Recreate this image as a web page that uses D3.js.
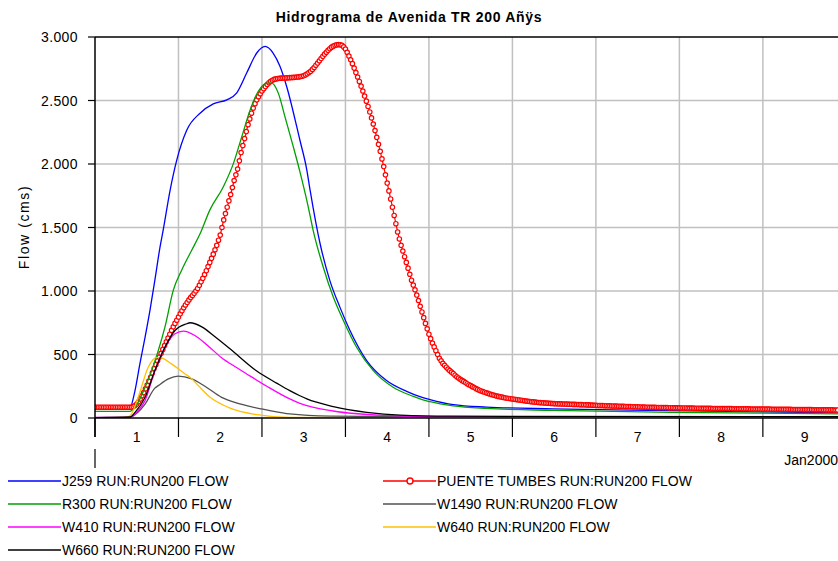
<!DOCTYPE html>
<html><head><meta charset="utf-8">
<script src="https://cdn.jsdelivr.net/npm/d3@7"></script>
<style>body{margin:0;background:#fff} text{font-family:Arial,"Liberation Sans",sans-serif;fill:#000}</style>
</head><body><svg id="c" width="838" height="561"></svg>
<script>
// ---------- DATA ----------
const title = "Hidrograma de Avenida TR 200 Añÿs";
const yLabel = "Flow (cms)";
const dayLabels = ["1","2","3","4","5","6","7","8","9"];
const dayTickHours = [0,24,48,72,96,120,144,168,192];
const yTicks = [0,500,1000,1500,2000,2500,3000];
const periodLabel = "Jan2000";

// PUENTE TUMBES, one value every half hour from hour 0
const puenteStepHours = 0.5;
const puenteFlow = [
 85,85, 85,85, 85,85, 85,85, 85,85, 85,85, 85,85, 85,85, 85,85, 85,85,
 85,86, 90,98, 110,128, 150,175, 200,230, 260,290, 320,355, 390,420, 450,480, 510,540,
 570,600, 630,660, 690,718, 745,770, 795,820, 845,868, 890,910, 930,948, 965,982, 1000,1020,
 1045,1072, 1100,1130, 1160,1192, 1225,1257, 1290,1325, 1360,1400, 1440,1500, 1560,1610, 1660,1710, 1760,1815,
 1870,1915, 1960,2025, 2090,2145, 2200,2255, 2310,2355, 2400,2440, 2475,2505, 2530,2553, 2575,2593, 2610,2626,
 2640,2651, 2660,2666, 2670,2673, 2675,2676, 2677,2677, 2678,2679, 2680,2681, 2682,2683, 2685,2686, 2688,2691,
 2695,2702, 2710,2720, 2730,2745, 2760,2778, 2795,2813, 2830,2848, 2865,2880, 2895,2908, 2920,2928, 2935,2938,
 2940,2939, 2935,2922, 2905,2880, 2850,2820, 2790,2755, 2720,2685, 2650,2613, 2575,2535, 2495,2453, 2410,2363,
 2315,2263, 2210,2155, 2100,2040, 1980,1915, 1850,1788, 1725,1660, 1595,1530, 1465,1410, 1360,1315, 1270,1225,
 1180,1132, 1085,1047, 1010,968, 925,880, 835,790, 745,702, 660,625, 590,560, 530,500, 470,450,
 430,415, 400,386, 373,361, 350,337, 325,315, 305,296, 288,279, 270,262, 255,247, 240,232,
 225,219, 213,208, 203,198, 194,189, 185,181, 177,173, 170,167, 164,161, 158,156, 154,152,
 150,148, 146,144, 142,140, 138,136, 134,132, 130,128, 127,125, 124,122, 121,120, 119,118,
 117,116, 115,114, 113,112, 112,111, 111,110, 110,109, 109,108, 108,107, 107,106, 106,105,
 105,104, 104,103, 103,102, 101,100, 100,99, 99,98, 98,97, 97,96, 96,95, 95,94,
 94,93, 93,92, 92,91, 91,90, 90,89, 89,88, 88,87, 87,86, 86,85, 85,84,
 84,84, 84,83, 83,83, 83,82, 82,82, 81,81, 81,80, 80,80, 80,79, 79,79,
 79,78, 78,78, 78,77, 77,77, 77,76, 76,76, 76,76, 76,75, 75,75, 75,75,
 75,74, 74,74, 74,74, 74,73, 73,73, 73,73, 73,72, 72,72, 72,71, 71,71,
 71,71, 71,70, 70,70, 70,70, 70,69, 69,69, 69,69, 69,68, 68,68, 68,68,
 68,67, 67,67, 67,67, 67,66, 66,66, 66,66, 66,65, 65,65, 65,65, 65,64,
 64,64, 64,64, 64,63, 63,63
];

const j259Hours = [0,10,11.5,12.9,14.4,15.8,17.2,18.7,19.6,21.6,23.5,26.4,30.2,34,37.9,40.7,43.6,46.5,48.9,51.2,53.2,55.1,58,58.9,60.9,61.8,64.7,67.5,70.4,73.3,78.1,83.8,89.6,93.4,96.3,103,112.6,131.7,165.3,213.6];
const j259Flow  = [75,78,216,426,636,847,1084,1347,1479,1795,2031,2268,2400,2473,2505,2558,2716,2874,2926,2874,2768,2610,2294,2189,1952,1800,1374,1084,873,689,452,295,210,168,145,105,86,72,58,40];

const r300Hours = [0,10,11.5,14.4,16.3,18.2,20.1,22.5,24.9,27.8,30.2,33,36.9,39.8,42.2,44.6,46.9,49.4,50.8,52.7,54.6,57,58.9,61.3,62.7,65.6,68.5,71.4,75.2,80,85.7,91.5,93.4,96.3,103,112.6,131.7,165.3,213.6];
const r300Flow  = [52,52,84,242,373,531,715,1005,1163,1321,1450,1637,1821,2005,2215,2426,2571,2637,2637,2558,2373,2137,1940,1663,1479,1189,952,768,557,373,242,170,150,128,95,75,60,45,32];

const w1490Hours = [0,10.1,12.1,14.4,17.2,18.2,21.1,23.9,27.8,31.6,36.4,40.2,43.6,47.9,50.3,56,67.5,100,213.6];
const w1490Flow  = [2,5,40,110,235,255,308,329,308,250,163,123,97,71,58,32,15,8,5];

const w410Hours = [0,9,10.1,12.1,14.4,17.2,20.1,23,25.4,28.7,32.6,36.4,40.2,43.6,49.4,56,58.9,68.5,82.9,102,213.6];
const w410Flow  = [5,5,8,50,137,373,557,663,684,650,565,475,405,347,250,150,115,55,20,8,3];

const w640Hours = [0,8.6,10.1,12.4,15.3,17.7,19.1,22,25.9,27.3,29.7,33,38.3,46.5,56,100,213.6];
const w640Flow  = [2,5,18,163,400,478,474,426,347,321,255,165,84,26,5,3,2];

const w660Hours = [0,10.1,11.5,14.4,17.2,20.1,23,26.4,27.3,30.7,34.5,38.8,46.5,52.2,56,58.9,60.9,68.5,78.1,87.7,102,213.6];
const w660Flow  = [3,8,44,163,373,557,689,742,750,718,640,545,370,275,215,175,150,90,45,22,14,10];

const seriesNames = ["J259 RUN:RUN200 FLOW","PUENTE TUMBES RUN:RUN200 FLOW","R300 RUN:RUN200 FLOW","W1490 RUN:RUN200 FLOW","W410 RUN:RUN200 FLOW","W640 RUN:RUN200 FLOW","W660 RUN:RUN200 FLOW"];
const seriesColors = ["#0000ff","#ff0000","#00a000","#505050","#ff00ff","#ffc000","#000000"];

// ---------- CHART ----------
const svg = d3.select("#c");
const L = 95, R = 838, T = 37, B = 418;
const x = d3.scaleLinear().domain([0, 213.6]).range([L, R]);
const y = d3.scaleLinear().domain([0, 3000]).range([B, T]);
const fmt = d3.formatLocale({decimal:",", thousands:".", grouping:[3], currency:["",""]}).format(",d");

svg.append("defs").append("clipPath").attr("id","clip")
  .append("rect").attr("x",L).attr("y",T-4).attr("width",R-L+4).attr("height",B-T+4);

// gridlines
const g = svg.append("g");
g.selectAll(".hg").data(yTicks.filter(v=>v>0 && v<3000)).enter().append("line")
  .attr("x1",L).attr("x2",R).attr("y1",d=>y(d)).attr("y2",d=>y(d))
  .attr("stroke","#c0c0c0").attr("stroke-width",1.5);
g.selectAll(".vg").data(dayTickHours.filter(h=>h>0)).enter().append("line")
  .attr("x1",d=>x(d)).attr("x2",d=>x(d)).attr("y1",T).attr("y2",B)
  .attr("stroke","#c0c0c0").attr("stroke-width",1.5);

// series
const plot = svg.append("g").attr("clip-path","url(#clip)");
function lineSeries(hours, flows, color){
  const pts = hours.map((h,i)=>[h, flows[i]]);
  plot.append("path").datum(pts)
    .attr("d", d3.line().x(d=>x(d[0])).y(d=>y(d[1])).curve(d3.curveMonotoneX))
    .attr("fill","none").attr("stroke",color).attr("stroke-width",1.3);
}
lineSeries(j259Hours, j259Flow, seriesColors[0]);
// Puente Tumbes
const pPts = puenteFlow.map((v,i)=>[i*puenteStepHours, v]);
plot.append("path").datum(pPts)
  .attr("d", d3.line().x(d=>x(d[0])).y(d=>y(d[1])))
  .attr("fill","none").attr("stroke","#ff0000").attr("stroke-width",1.2);
plot.selectAll(".pm").data(pPts).enter().append("circle")
  .attr("cx",d=>x(d[0])).attr("cy",d=>y(d[1])).attr("r",2.2)
  .attr("fill","#fff").attr("stroke","#ff0000").attr("stroke-width",1.2);
lineSeries(r300Hours, r300Flow, seriesColors[2]);
lineSeries(w1490Hours, w1490Flow, seriesColors[3]);
lineSeries(w410Hours, w410Flow, seriesColors[4]);
lineSeries(w640Hours, w640Flow, seriesColors[5]);
lineSeries(w660Hours, w660Flow, seriesColors[6]);

// axes frame
svg.append("line").attr("x1",L).attr("x2",R).attr("y1",T).attr("y2",T).attr("stroke","#000").attr("stroke-width",1.5);
svg.append("line").attr("x1",L).attr("x2",R).attr("y1",B).attr("y2",B).attr("stroke","#000").attr("stroke-width",1.5);
svg.append("line").attr("x1",L).attr("x2",L).attr("y1",T).attr("y2",437).attr("stroke","#000").attr("stroke-width",1.5);
svg.append("line").attr("x1",L).attr("x2",L).attr("y1",449).attr("y2",468).attr("stroke","#000").attr("stroke-width",1.2);

// y ticks + labels
svg.selectAll(".yt").data(yTicks).enter().append("line")
  .attr("x1",88).attr("x2",L).attr("y1",d=>y(d)).attr("y2",d=>y(d)).attr("stroke","#000").attr("stroke-width",1.2);
svg.selectAll(".yl").data(yTicks).enter().append("text")
  .attr("x",78).attr("y",d=>y(d)+5).attr("text-anchor","end").attr("font-size",14).attr("letter-spacing",0.4)
  .text(d=>fmt(d));

// x ticks + labels
svg.selectAll(".xt").data(dayTickHours).enter().append("line")
  .attr("x1",d=>x(d)).attr("x2",d=>x(d)).attr("y1",B).attr("y2",437).attr("stroke","#000").attr("stroke-width",1.2);
svg.selectAll(".xl").data(dayLabels).enter().append("text")
  .attr("x",(d,i)=>x(dayTickHours[i]+12)).attr("y",442).attr("text-anchor","middle").attr("font-size",14)
  .text(d=>d);
svg.append("text").attr("x",838).attr("y",465).attr("text-anchor","end").attr("font-size",14).text(periodLabel);

// title & y label
svg.append("text").attr("x",409).attr("y",22).attr("text-anchor","middle").attr("font-size",14)
  .attr("font-weight","bold").attr("letter-spacing",0.7).text(title);
svg.append("text").attr("transform","translate(29,227) rotate(-90)").attr("text-anchor","middle")
  .attr("font-size",14).attr("letter-spacing",1.6).text(yLabel);

// legend
const legendPos = [[8,481],[383,481],[8,504],[383,504],[8,527],[383,527],[8,550]];
seriesNames.forEach((name,i)=>{
  const [lx,ly] = legendPos[i];
  const lg = svg.append("g");
  lg.append("line").attr("x1",lx).attr("x2",lx+53).attr("y1",ly).attr("y2",ly)
    .attr("stroke",seriesColors[i]).attr("stroke-width",1.4);
  if(i===1){
    lg.append("circle").attr("cx",lx+27).attr("cy",ly).attr("r",3).attr("fill","#fff")
      .attr("stroke","#ff0000").attr("stroke-width",1.4);
  }
  lg.append("text").attr("x",lx+54).attr("y",ly+5).attr("font-size",14).text(name);
});
</script></body></html>
